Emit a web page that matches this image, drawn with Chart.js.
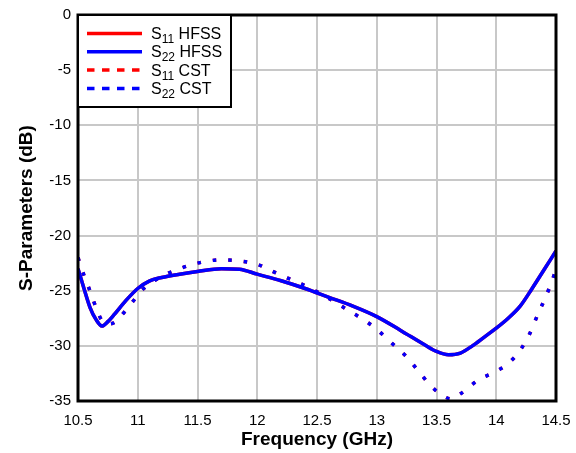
<!DOCTYPE html>
<html>
<head>
<meta charset="utf-8">
<script src="https://cdn.jsdelivr.net/npm/chart.js@4"></script>
<style>
  html, body { margin: 0; padding: 0; background: #fff; }
  #wrap { width: 576px; height: 453px; }
</style>
</head>
<body>
<div id="wrap"><canvas id="sparChart" width="576" height="453"></canvas></div>
<script>
// Frequências (GHz) e valores em dB
const hfssFreq = [10.5, 10.55, 10.6, 10.65, 10.7, 10.75, 10.8, 10.9, 11.0, 11.1, 11.2, 11.35, 11.5, 11.7, 11.85,
  12.0, 12.2, 12.4, 12.6, 12.8, 13.0, 13.2, 13.4, 13.5, 13.6, 13.7, 13.8, 13.9, 14.0, 14.1, 14.2, 14.3, 14.4, 14.5];
const s11Hfss = [-23.0, -24.8, -26.5, -27.6, -28.2, -27.8, -27.2, -25.9, -24.8, -24.1, -23.8, -23.5, -23.25, -23.0, -23.05,
  -23.5, -24.1, -24.8, -25.6, -26.4, -27.35, -28.6, -29.9, -30.5, -30.8, -30.65, -30.0, -29.2, -28.4, -27.5, -26.4, -24.8, -23.1, -21.4];
const s22Hfss = s11Hfss.slice();

const cstFreq = [10.5, 10.55, 10.6, 10.65, 10.7, 10.75, 10.8, 10.85, 10.95, 11.05, 11.2, 11.35, 11.5, 11.7, 11.85,
  12.0, 12.1, 12.2, 12.35, 12.5, 12.6, 12.75, 12.9, 13.0, 13.1, 13.25, 13.35, 13.45, 13.55, 13.62, 13.7, 13.85,
  14.0, 14.1, 14.2, 14.28, 14.35, 14.4, 14.45, 14.5];
const s11Cst = [-22.0, -23.6, -25.0, -26.5, -27.7, -28.0, -27.9, -27.4, -26.1, -24.8, -23.7, -23.0, -22.5, -22.2, -22.3,
  -22.6, -23.1, -23.6, -24.3, -25.1, -25.7, -26.7, -27.7, -28.5, -29.5, -31.0, -32.3, -33.6, -34.5, -34.8, -34.35, -33.1,
  -32.3, -31.6, -30.4, -28.9, -27.1, -25.9, -24.6, -23.1];
const s22Cst = s11Cst.slice();

const xTicks = [10.5, 11, 11.5, 12, 12.5, 13, 13.5, 14, 14.5];
const yTicks = [0, -5, -10, -15, -20, -25, -30, -35];

const legendItems = [
  { sub: '11', name: 'HFSS', color: '#ff0000', dash: [] },
  { sub: '22', name: 'HFSS', color: '#0000ff', dash: [] },
  { sub: '11', name: 'CST', color: '#ff0000', dash: [7.5, 7.5] },
  { sub: '22', name: 'CST', color: '#0000ff', dash: [7.5, 7.5] }
];

const FONT = "'Liberation Sans', Arial, Helvetica, sans-serif";
const pts = (xs, ys) => xs.map((x, i) => ({ x: x, y: ys[i] }));

// Moldura preta e legenda com subscritos
const framePlugin = {
  id: 'frameLegend',
  afterDatasetsDraw(chart) {
    const { ctx, chartArea: a } = chart;
    ctx.save();
    ctx.strokeStyle = '#000';
    ctx.lineWidth = 3;
    ctx.strokeRect(a.left, a.top, a.right - a.left, a.bottom - a.top);

    // caixa da legenda
    const bx = a.left, by = a.top, bw = 153, bh = 92;
    ctx.fillStyle = '#fff';
    ctx.fillRect(bx, by, bw, bh);
    ctx.lineWidth = 2;
    ctx.strokeRect(bx, by, bw, bh);

    legendItems.forEach((it, i) => {
      const y = by + 18.5 + i * 18.3;
      ctx.beginPath();
      ctx.setLineDash(it.dash);
      ctx.lineWidth = 3.5;
      ctx.strokeStyle = it.color;
      ctx.moveTo(bx + 9, y);
      ctx.lineTo(bx + 64, y);
      ctx.stroke();
      ctx.setLineDash([]);

      ctx.fillStyle = '#000';
      ctx.textBaseline = 'alphabetic';
      ctx.font = '16px ' + FONT;
      let tx = bx + 73;
      ctx.fillText('S', tx, y + 5.5);
      tx += ctx.measureText('S').width;
      ctx.font = '12px ' + FONT;
      ctx.fillText(it.sub, tx, y + 9.5);
      tx += ctx.measureText(it.sub).width;
      ctx.font = '16px ' + FONT;
      ctx.fillText(' ' + it.name, tx, y + 5.5);
    });
    ctx.restore();
  }
};

const ctx = document.getElementById('sparChart').getContext('2d');
const sparChart = new Chart(ctx, {
  type: 'line',
  data: {
    datasets: [
      { label: 'S11 HFSS', data: pts(hfssFreq, s11Hfss), borderColor: '#ff0000', borderWidth: 3.5, order: 3 },
      { label: 'S22 HFSS', data: pts(hfssFreq, s22Hfss), borderColor: '#0000ff', borderWidth: 3.5, order: 1 },
      { label: 'S11 CST', data: pts(cstFreq, s11Cst), borderColor: '#ff0000', borderWidth: 3.5, borderDash: [3.5, 12], order: 2 },
      { label: 'S22 CST', data: pts(cstFreq, s22Cst), borderColor: '#0000ff', borderWidth: 3.5, borderDash: [3.5, 12], order: 0 }
    ]
  },
  options: {
    responsive: false,
    animation: false,
    events: [],
    layout: { padding: { top: 15, right: 20, left: 0, bottom: 0 } },
    elements: {
      point: { radius: 0 },
      line: { cubicInterpolationMode: 'monotone', fill: false, borderCapStyle: 'butt' }
    },
    plugins: {
      legend: { display: false },
      tooltip: { enabled: false }
    },
    scales: {
      x: {
        type: 'linear',
        min: 10.5,
        max: 14.5,
        afterBuildTicks: (s) => { s.ticks = xTicks.map(v => ({ value: v })); },
        afterFit: (s) => { s.height = 52; s.paddingRight = 0; s.paddingLeft = 0; },
        grid: { color: '#c8c8c8', lineWidth: 2, drawTicks: false },
        border: { display: false },
        ticks: { color: '#000', font: { family: FONT, size: 15 }, padding: 11, maxRotation: 0, callback: (v) => String(v) },
        title: { display: true, text: 'Frequency (GHz)', color: '#000', font: { family: FONT, size: 19, weight: 'bold' }, padding: { top: 0, bottom: 2 } }
      },
      y: {
        type: 'linear',
        min: -35,
        max: 0,
        afterBuildTicks: (s) => { s.ticks = yTicks.map(v => ({ value: v })); },
        afterFit: (s) => { s.width = 78; s.paddingTop = 0; s.paddingBottom = 0; },
        grid: { color: '#c8c8c8', lineWidth: 2, drawTicks: false },
        border: { display: false },
        ticks: { color: '#000', font: { family: FONT, size: 15 }, padding: 7, callback: (v) => String(v) },
        title: { display: true, text: 'S-Parameters (dB)', color: '#000', font: { family: FONT, size: 19, weight: 'bold' }, padding: { top: 15, bottom: 0 } }
      }
    }
  },
  plugins: [framePlugin]
});
</script>
</body>
</html>
